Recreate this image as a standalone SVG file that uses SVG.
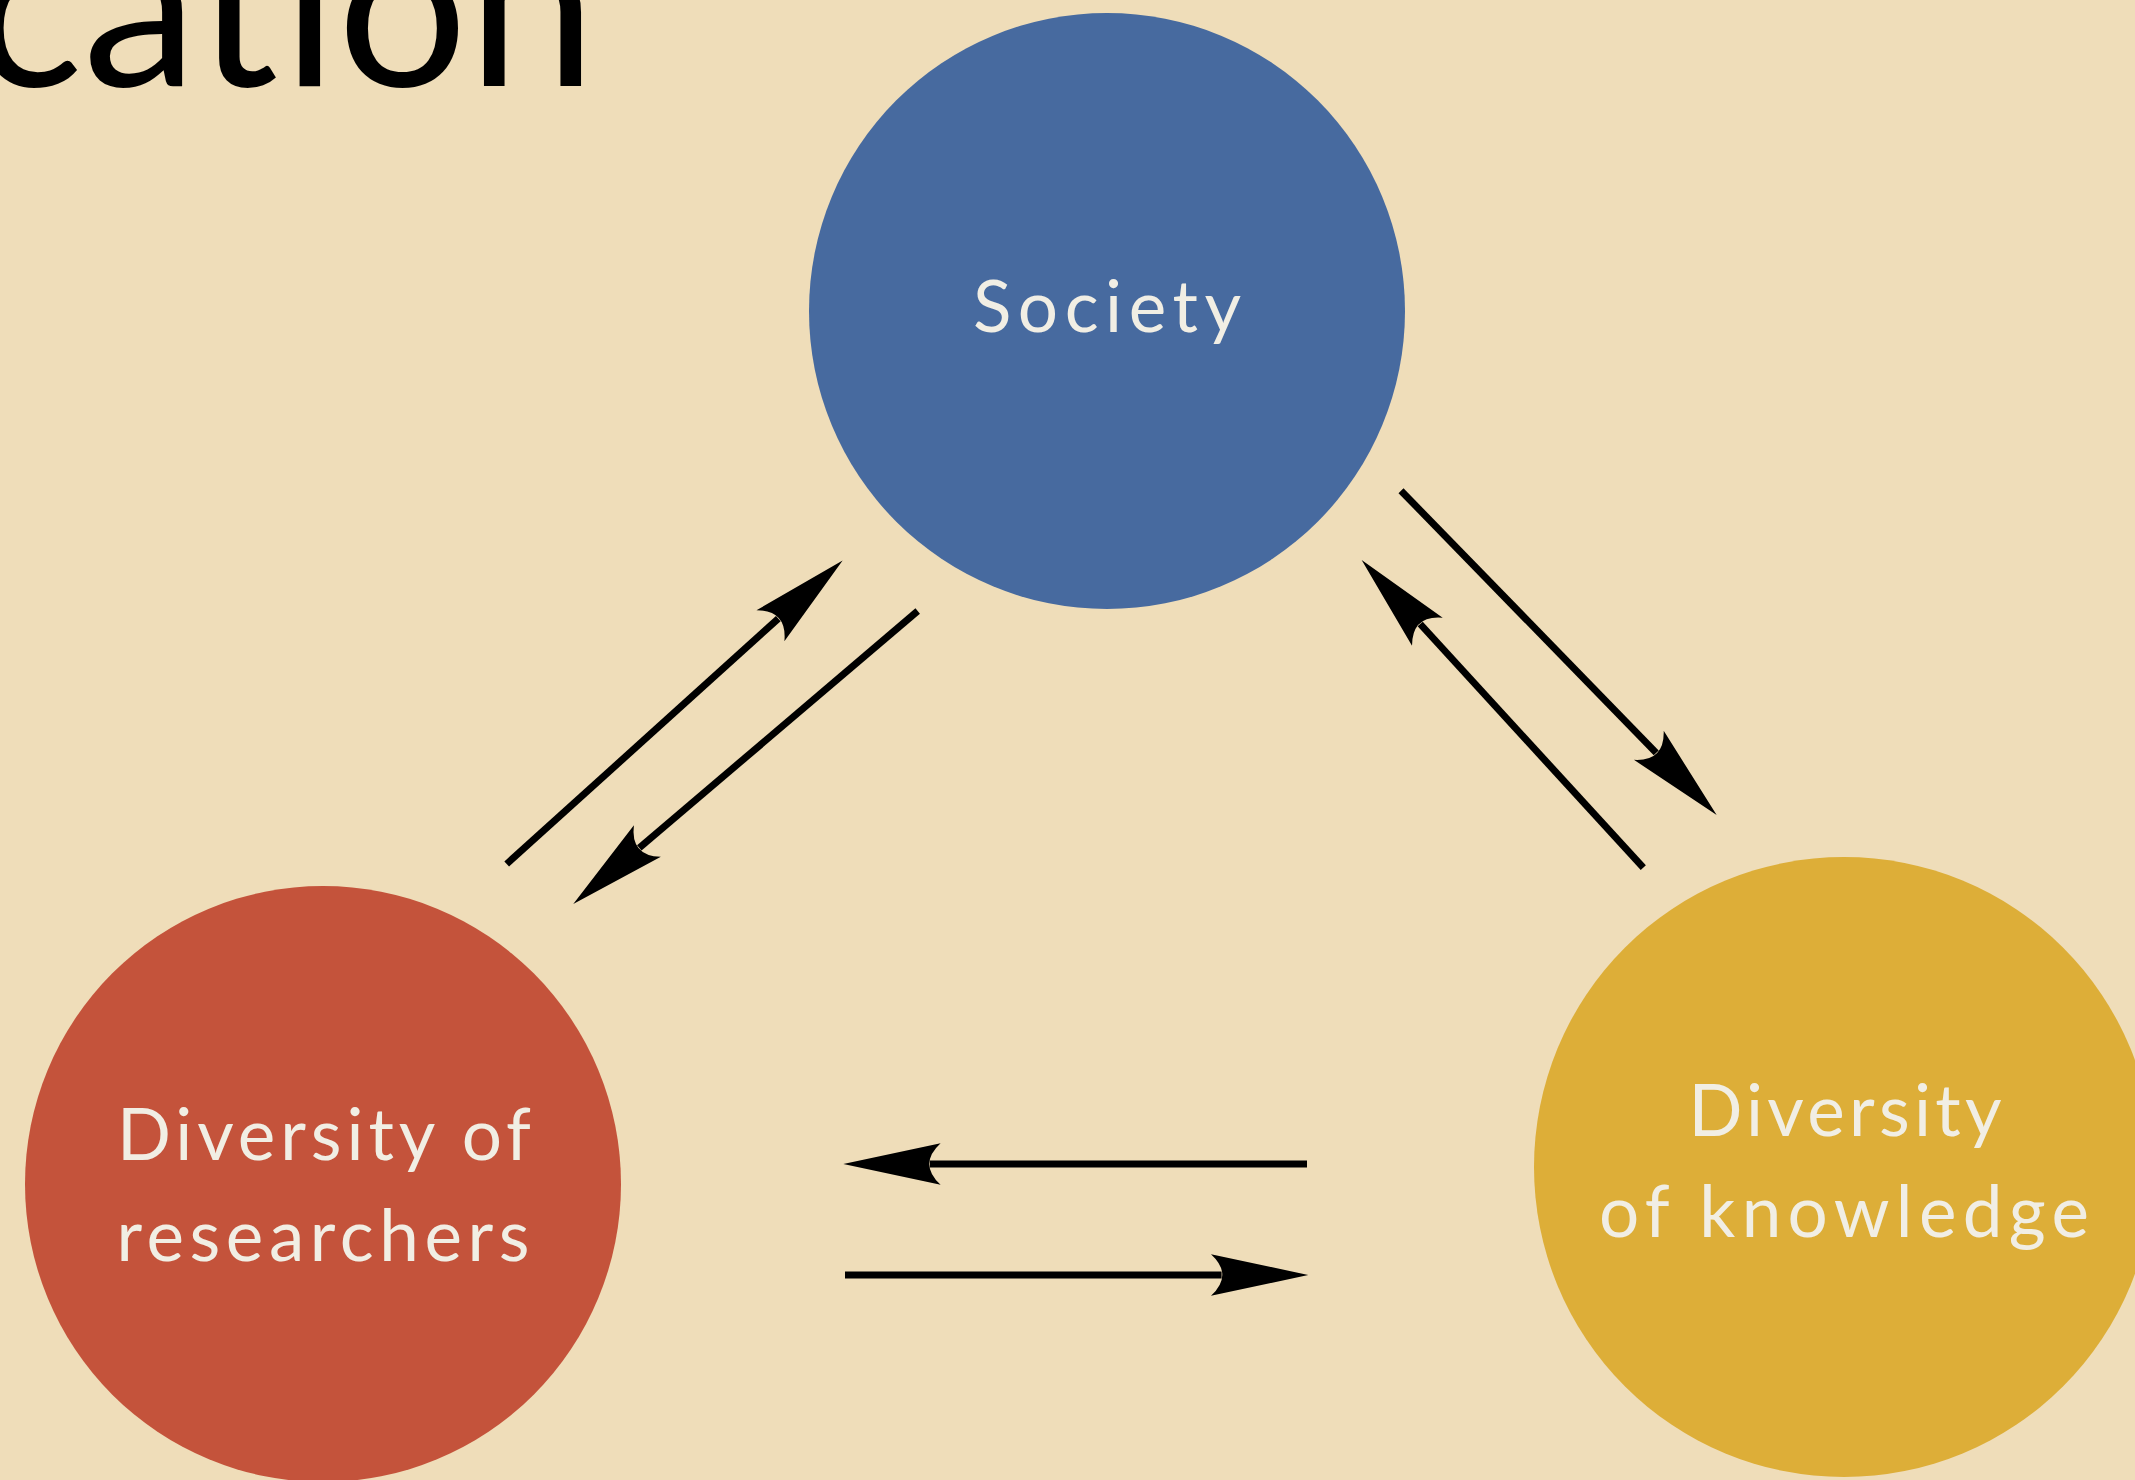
<svg xmlns="http://www.w3.org/2000/svg" width="2135" height="1480" viewBox="0 0 2135 1480">
  <style>
    .lbl { font-family: Lato, "Open Sans", "Liberation Sans", sans-serif; font-size: 71px; fill: #F1EEE4; text-anchor: middle; }
    .title { font-family: Lato, "Open Sans", "Liberation Sans", sans-serif; font-size: 230px; fill: #000000; }
    .conn { stroke: #000000; stroke-width: 7; fill: none; marker-end: url(#head); }
  </style>
  <defs>
    <marker id="head" markerUnits="userSpaceOnUse" orient="auto" refX="0" refY="0" markerWidth="120" markerHeight="60" overflow="visible">
      <path d="M86.7,0 L-10.6,-20.8 Q12,0 -10.6,20.8 Z" fill="#000000"/>
    </marker>
  </defs>
  <rect x="0" y="0" width="2135" height="1480" fill="#EFDDB9"/>
  <text class="title" x="-27" y="86">cation</text>

  <g id="node-society">
    <circle cx="1107" cy="311" r="298" fill="#476A9F"/>
    <text class="lbl" x="1107" y="332" textLength="268" lengthAdjust="spacing">Society</text>
  </g>
  <g id="node-researchers">
    <circle cx="323" cy="1184" r="298" fill="#C4533B"/>
    <text class="lbl" x="324" y="1160" textLength="414" lengthAdjust="spacing">Diversity of</text>
    <text class="lbl" x="323" y="1261" textLength="413" lengthAdjust="spacing">researchers</text>
  </g>
  <g id="node-knowledge">
    <circle cx="1844" cy="1167" r="310" fill="#DDAE38"/>
    <text class="lbl" x="1845" y="1136" textLength="313" lengthAdjust="spacing">Diversity</text>
    <text class="lbl" x="1844" y="1237" textLength="490" lengthAdjust="spacing">of knowledge</text>
  </g>

  <g id="connectors">
    <line class="conn" x1="506.7" y1="864" x2="778.3" y2="618.6"/>
    <line class="conn" x1="917.7" y1="611" x2="639.3" y2="847.9"/>
    <line class="conn" x1="1401" y1="490.7" x2="1656.2" y2="752.9"/>
    <line class="conn" x1="1643.3" y1="867.7" x2="1420.2" y2="624"/>
    <line class="conn" x1="1307" y1="1164" x2="930" y2="1164"/>
    <line class="conn" x1="845" y1="1275" x2="1221.6" y2="1275"/>
  </g>
</svg>
